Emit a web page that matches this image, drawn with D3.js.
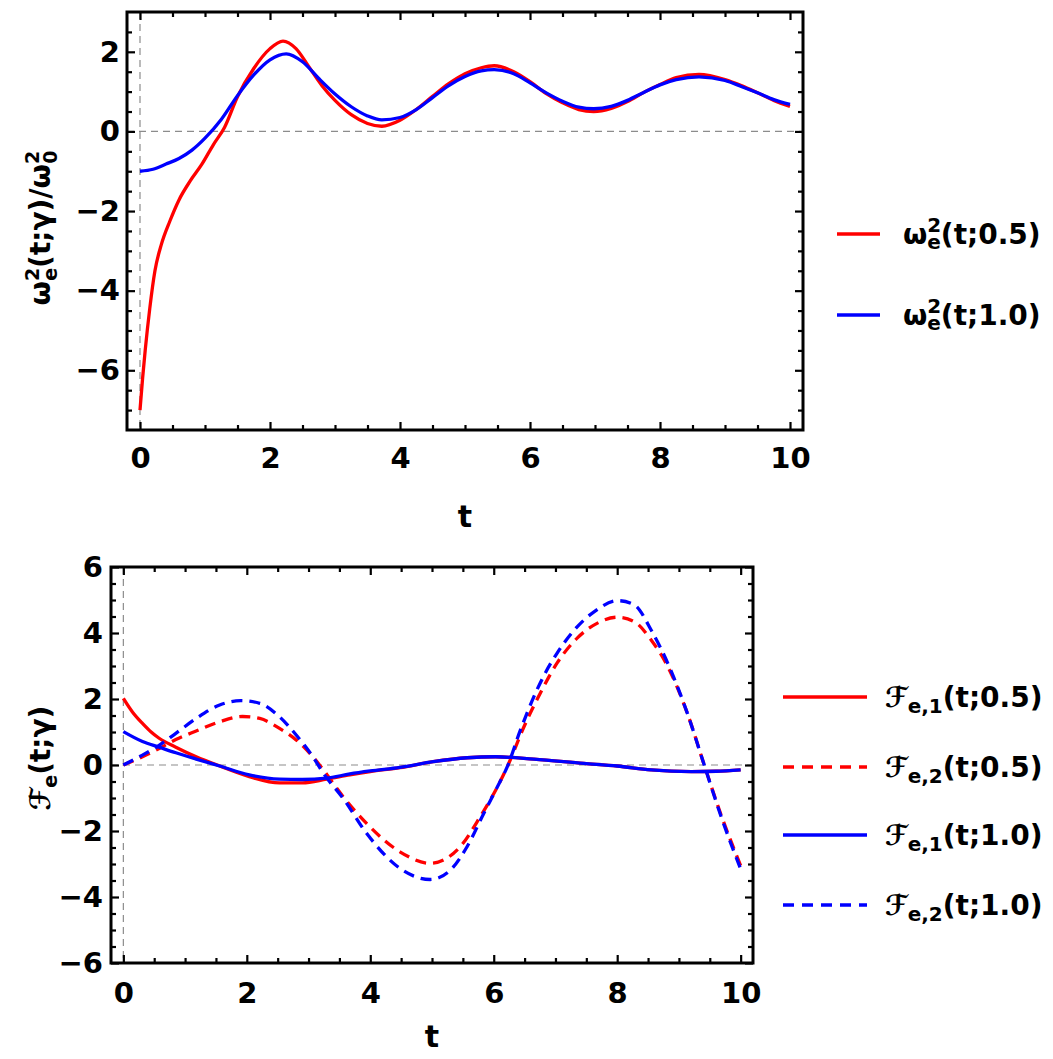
<!DOCTYPE html>
<html><head><meta charset="utf-8">
<script src="https://cdn.jsdelivr.net/npm/d3@7"></script>
<style>
body{margin:0;background:#fff}
svg{display:block}
text{font-family:'DejaVu Sans',sans-serif;font-weight:bold;fill:#000}
</style>
</head><body>
<svg id="c" width="1053" height="1059"></svg>
<script>
// ---------- data ----------
// top panel: omega_e^2(t;gamma)/omega_0^2
const omegaT05 = [0,0.04,0.08,0.15,0.23,0.33,0.46,0.6,0.77,0.95,1.13,1.3,1.5,1.75,2.0,2.2,2.4,2.6,2.8,3.0,3.25,3.5,3.72,4.0,4.25,4.5,4.75,5.0,5.25,5.45,5.75,6.0,6.25,6.5,6.75,6.98,7.25,7.5,7.75,8.0,8.25,8.6,9.0,9.25,9.5,9.75,10];
const omegaV05 = [-7,-6.2,-5.5,-4.45,-3.5,-2.83,-2.25,-1.72,-1.25,-0.83,-0.33,0.1,0.87,1.58,2.08,2.27,2.08,1.62,1.15,0.78,0.42,0.2,0.13,0.28,0.55,0.88,1.2,1.45,1.6,1.65,1.5,1.25,0.95,0.72,0.55,0.5,0.58,0.75,0.98,1.18,1.35,1.43,1.3,1.15,0.97,0.78,0.63];
const omegaT10 = [0,0.2,0.4,0.6,0.8,1.0,1.25,1.5,1.75,2.0,2.25,2.5,2.75,3.0,3.25,3.5,3.72,4.0,4.25,4.5,4.75,5.0,5.25,5.45,5.75,6.0,6.25,6.5,6.75,6.98,7.25,7.5,7.75,8.0,8.25,8.6,9.0,9.25,9.5,9.75,10];
const omegaV10 = [-1,-0.95,-0.82,-0.68,-0.47,-0.17,0.3,0.9,1.42,1.8,1.95,1.75,1.33,0.94,0.62,0.39,0.29,0.35,0.55,0.85,1.15,1.38,1.52,1.55,1.45,1.22,0.97,0.76,0.61,0.57,0.63,0.78,0.98,1.17,1.3,1.37,1.28,1.13,0.97,0.8,0.68];

// bottom panel: F_e,1 and F_e,2
const f1T05 = [0,0.15,0.31,0.45,0.58,0.85,1.18,1.56,2.04,2.53,2.9,3.29,3.67,4.0,4.48,5.02,5.57,6.03,6.65,7.46,8.0,8.55,9.2,9.6,10];
const f1V05 = [2.02,1.6,1.26,1.0,0.81,0.54,0.25,-0.03,-0.35,-0.54,-0.54,-0.43,-0.3,-0.2,-0.08,0.1,0.22,0.25,0.18,0.05,-0.03,-0.15,-0.2,-0.19,-0.15];
const f2T05 = [0,0.31,0.58,0.85,1.18,1.56,1.93,2.21,2.53,2.8,3.07,3.24,3.56,3.94,4.48,4.97,5.46,5.78,6.06,6.22,6.49,6.76,7.03,7.36,7.68,8.01,8.28,8.55,8.82,9.14,9.41,9.69,10];
const f2V05 = [0,0.25,0.5,0.77,1.03,1.31,1.47,1.41,1.11,0.76,0.25,-0.15,-0.96,-1.77,-2.63,-2.98,-2.47,-1.57,-0.66,-0.05,1.16,2.2,3.1,3.86,4.3,4.48,4.34,3.79,2.98,1.55,0.0,-1.55,-3.05];
const f1T10 = [0,0.31,0.58,0.85,1.18,1.56,2.04,2.53,2.9,3.29,3.67,4.0,4.48,5.02,5.57,6.03,6.65,7.46,8.0,8.55,9.2,9.6,10];
const f1V10 = [1.01,0.71,0.54,0.37,0.18,-0.03,-0.3,-0.43,-0.44,-0.4,-0.27,-0.18,-0.07,0.1,0.22,0.25,0.18,0.05,-0.03,-0.15,-0.2,-0.19,-0.15];
const f2T10 = [0,0.31,0.55,0.85,1.18,1.56,1.9,2.21,2.53,2.8,3.07,3.24,3.56,3.94,4.48,4.97,5.3,5.57,5.84,6.06,6.22,6.43,6.81,7.03,7.3,7.63,8.01,8.28,8.55,8.82,9.14,9.41,9.69,10];
const f2V10 = [0,0.3,0.56,0.96,1.41,1.82,1.95,1.87,1.46,0.91,0.25,-0.25,-1.01,-2.07,-3.13,-3.47,-3.18,-2.47,-1.46,-0.66,-0.05,1.05,2.7,3.4,4.08,4.65,4.98,4.85,4.09,3.08,1.55,0.0,-1.6,-3.15];

// ticks
const xMajor = [0,2,4,6,8,10];
const xMinor = d3.range(0,10.01,0.5).filter(v => v % 2 !== 0);
const yMajorTop = [-6,-4,-2,0,2];
const yMinorTop = d3.range(-7,2.51,0.5).filter(v => v % 2 !== 0);
const yMajorBot = [-6,-4,-2,0,2,4,6];
const yMinorBot = d3.range(-5.5,5.51,0.5).filter(v => v % 2 !== 0);

const RED = "#ff0000", BLUE = "#0000ff";
const svg = d3.select("#c");
const fmt = d3.format("d");

function panel(p){
  const x = d3.scaleLinear().domain([-0.2,10.2]).range([p.l,p.r]);
  const y = d3.scaleLinear().domain(p.yDom).range([p.b,p.t]);
  const g = svg.append("g");
  g.append("clipPath").attr("id",p.id).append("rect")
    .attr("x",p.l).attr("y",p.t).attr("width",p.r-p.l).attr("height",p.b-p.t);
  // zero lines
  g.append("line").attr("x1",x(0)).attr("x2",x(0)).attr("y1",p.t).attr("y2",p.b)
    .attr("stroke","#8c8c8c").attr("stroke-width",1.2).attr("stroke-dasharray","7,5");
  g.append("line").attr("x1",p.l).attr("x2",p.r).attr("y1",y(0)).attr("y2",y(0))
    .attr("stroke","#8c8c8c").attr("stroke-width",1.2).attr("stroke-dasharray","7,5");
  const line = d3.line().x(d=>x(d[0])).y(d=>y(d[1])).curve(d3.curveMonotoneX);
  const lg = g.append("g").attr("clip-path",`url(#${p.id})`);
  p.series.forEach(s=>{
    lg.append("path").datum(d3.zip(s.t,s.v)).attr("d",line)
      .attr("fill","none").attr("stroke",s.c).attr("stroke-width",3.3)
      .attr("stroke-dasharray",s.dash?"11,7":null);
  });
  const style = sel => {
    sel.select(".domain").remove();
    sel.attr("font-family",null).attr("font-size",null);
    sel.selectAll(".tick line").attr("stroke","#000").attr("stroke-width",2.2);
    sel.selectAll(".tick text").style("font-size","29px");
  };
  const add = (axis, tr) => g.append("g").attr("transform",tr).call(axis).call(style);
  add(d3.axisBottom(x).tickValues(xMajor).tickSize(-8).tickPadding(p.xPad).tickFormat(fmt), `translate(0,${p.b})`);
  add(d3.axisBottom(x).tickValues(xMinor).tickSize(-5).tickFormat(""), `translate(0,${p.b})`);
  add(d3.axisTop(x).tickValues(xMajor).tickSize(-8).tickFormat(""), `translate(0,${p.t})`);
  add(d3.axisTop(x).tickValues(xMinor).tickSize(-5).tickFormat(""), `translate(0,${p.t})`);
  add(d3.axisLeft(y).tickValues(p.yMajor).tickSize(-8).tickPadding(p.yPad).tickFormat(fmt), `translate(${p.l},0)`);
  add(d3.axisLeft(y).tickValues(p.yMinor).tickSize(-5).tickFormat(""), `translate(${p.l},0)`);
  add(d3.axisRight(y).tickValues(p.yMajor).tickSize(-8).tickFormat(""), `translate(${p.r},0)`);
  add(d3.axisRight(y).tickValues(p.yMinor).tickSize(-5).tickFormat(""), `translate(${p.r},0)`);
  g.append("rect").attr("x",p.l).attr("y",p.t).attr("width",p.r-p.l).attr("height",p.b-p.t)
    .attr("fill","none").attr("stroke","#000").attr("stroke-width",3);
  // x title
  g.append("text").attr("x",(p.l+p.r)/2).attr("y",p.xTitleY).attr("text-anchor","middle")
    .style("font-size","30px").text("t");
  return {x,y};
}

panel({id:"cp1", l:127, r:803, t:12, b:430, yDom:[-7.5,3], yMajor:yMajorTop, yMinor:yMinorTop,
  xPad:17, yPad:7, xTitleY:527,
  series:[{t:omegaT05,v:omegaV05,c:RED},{t:omegaT10,v:omegaV10,c:BLUE}]});

panel({id:"cp2", l:111, r:753, t:567, b:963, yDom:[-6,6], yMajor:yMajorBot, yMinor:yMinorBot,
  xPad:19, yPad:8, xTitleY:1047,
  series:[{t:f1T05,v:f1V05,c:RED},{t:f2T05,v:f2V05,c:RED,dash:true},
          {t:f1T10,v:f1V10,c:BLUE},{t:f2T10,v:f2V10,c:BLUE,dash:true}]});

// ---------- y axis titles ----------
const yl1 = svg.append("text").attr("transform","translate(50,228) rotate(-90)")
  .attr("text-anchor","middle").style("font-size","28px");
yl1.append("tspan").text("ω");
yl1.append("tspan").attr("dy",-11).style("font-size","19px").text("2");
yl1.append("tspan").attr("dx",-13).attr("dy",18).style("font-size","19px").text("e");
yl1.append("tspan").attr("dy",-7).text("(t;γ)/ω");
yl1.append("tspan").attr("dy",-11).style("font-size","19px").text("2");
yl1.append("tspan").attr("dx",-13).attr("dy",18).style("font-size","19px").text("0");

const yl2 = svg.append("text").attr("transform","translate(50,758) rotate(-90)")
  .attr("text-anchor","middle").style("font-size","28px");
yl2.append("tspan").text("ℱ");
yl2.append("tspan").attr("dy",7).style("font-size","19px").text("e");
yl2.append("tspan").attr("dy",-7).text("(t;γ)");

// ---------- legends ----------
const legTop = [{c:RED,p:"0.5",y:234},{c:BLUE,p:"1.0",y:315}];
legTop.forEach(d=>{
  svg.append("line").attr("x1",837).attr("x2",880).attr("y1",d.y).attr("y2",d.y)
    .attr("stroke",d.c).attr("stroke-width",3.3);
  const t = svg.append("text").attr("x",903).attr("y",d.y+10).style("font-size","28px");
  t.append("tspan").text("ω");
  t.append("tspan").attr("dy",-12).style("font-size","20px").text("2");
  t.append("tspan").attr("dx",-14).attr("dy",17).style("font-size","20px").text("e");
  t.append("tspan").attr("dy",-5).text(`(t;${d.p})`);
});

const legBot = [
  {c:RED,dash:false,i:"1",p:"0.5",y:697},
  {c:RED,dash:true,i:"2",p:"0.5",y:767},
  {c:BLUE,dash:false,i:"1",p:"1.0",y:835},
  {c:BLUE,dash:true,i:"2",p:"1.0",y:905}];
legBot.forEach(d=>{
  svg.append("line").attr("x1",783).attr("x2",867).attr("y1",d.y).attr("y2",d.y)
    .attr("stroke",d.c).attr("stroke-width",3.3).attr("stroke-dasharray",d.dash?"11,8":null);
  const t = svg.append("text").attr("x",885).attr("y",d.y+10).style("font-size","28px");
  t.append("tspan").text("ℱ");
  t.append("tspan").attr("dy",6).style("font-size","20px").text(`e,${d.i}`);
  t.append("tspan").attr("dy",-6).text(`(t;${d.p})`);
});
</script>
</body></html>
